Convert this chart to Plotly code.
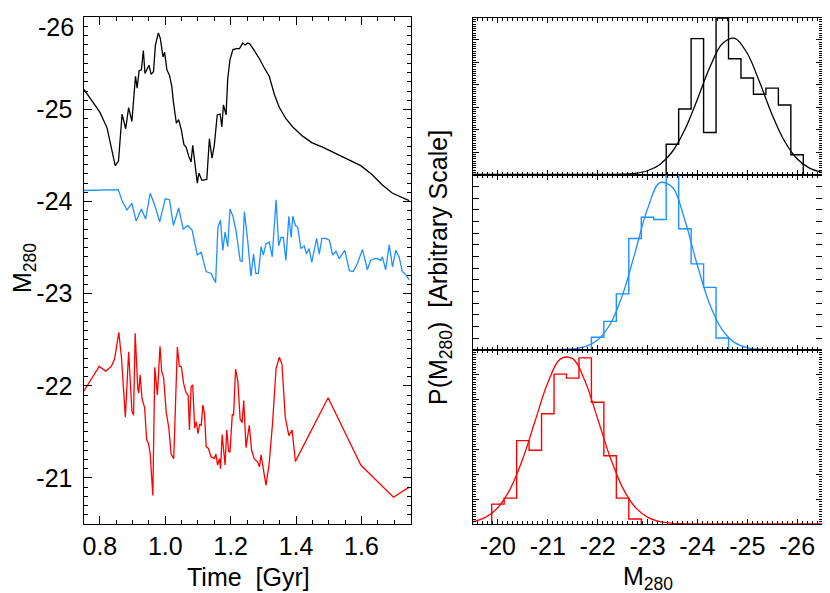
import plotly.graph_objects as go

# left panel: magnitude vs time for the three runs
time_black = [0.747, 0.770, 0.800, 0.822, 0.847, 0.857, 0.868, 0.879, 0.888, 0.898,
              0.909, 0.914, 0.920, 0.927, 0.933, 0.938, 0.950, 0.957, 0.964, 0.970,
              0.979, 0.985, 0.993, 0.998, 1.005, 1.013, 1.020, 1.025, 1.034, 1.041,
              1.049, 1.057, 1.064, 1.072, 1.079, 1.084, 1.092, 1.098, 1.103, 1.112,
              1.127, 1.135, 1.143, 1.150, 1.159, 1.168, 1.173, 1.178, 1.186, 1.191,
              1.198, 1.207, 1.219, 1.227, 1.237, 1.244, 1.252, 1.259, 1.272, 1.288,
              1.303, 1.318, 1.334, 1.349, 1.369, 1.390, 1.420, 1.448, 1.481, 1.522,
              1.562, 1.598, 1.633, 1.664, 1.695, 1.746]
mag_black = [-25.24, -25.12, -24.97, -24.80, -24.39, -24.44, -24.95, -24.79, -25.02, -24.87,
             -25.36, -25.23, -25.42, -25.43, -25.64, -25.39, -25.48, -25.38, -25.41, -25.70,
             -25.83, -25.77, -25.57, -25.62, -25.43, -25.37, -25.25, -25.08, -24.85, -24.89,
             -24.78, -24.62, -24.59, -24.49, -24.43, -24.61, -24.36, -24.20, -24.31, -24.23,
             -24.24, -24.68, -24.47, -24.61, -24.94, -24.95, -24.81, -25.05, -24.94, -25.33,
             -25.54, -25.65, -25.66, -25.66, -25.72, -25.70, -25.72, -25.71, -25.64, -25.55,
             -25.45, -25.36, -25.16, -25.02, -24.90, -24.81, -24.71, -24.64, -24.59, -24.52,
             -24.45, -24.39, -24.29, -24.18, -24.09, -24.01]

time_blue = [0.747, 0.856, 0.869, 0.883, 0.898, 0.911, 0.927, 0.940, 0.954, 0.967,
             0.983, 1.000, 1.013, 1.025, 1.041, 1.055, 1.069, 1.082, 1.098, 1.110,
             1.125, 1.140, 1.154, 1.161, 1.169, 1.176, 1.183, 1.191, 1.198, 1.207,
             1.217, 1.229, 1.235, 1.242, 1.252, 1.262, 1.270, 1.277, 1.285, 1.293,
             1.300, 1.308, 1.318, 1.327, 1.339, 1.347, 1.354, 1.361, 1.369, 1.378,
             1.385, 1.390, 1.398, 1.405, 1.415, 1.425, 1.432, 1.440, 1.448, 1.456,
             1.463, 1.471, 1.479, 1.491, 1.502, 1.512, 1.522, 1.532, 1.549, 1.563,
             1.575, 1.588, 1.603, 1.618, 1.628, 1.639, 1.649, 1.659, 1.664, 1.674,
             1.685, 1.695, 1.705, 1.715, 1.725, 1.735, 1.746]
mag_blue = [-24.12, -24.13, -24.00, -23.91, -23.98, -23.79, -23.92, -23.81, -24.09, -23.97,
            -23.78, -24.03, -24.02, -23.74, -23.93, -23.70, -23.74, -23.69, -23.42, -23.45,
            -23.24, -23.22, -23.12, -23.72, -23.80, -23.47, -23.67, -23.51, -23.92, -23.84,
            -23.67, -23.36, -23.35, -23.89, -23.58, -23.19, -23.43, -23.22, -23.22, -23.51,
            -23.42, -23.54, -23.56, -23.40, -24.02, -23.52, -23.61, -23.61, -23.36, -23.84,
            -23.61, -23.84, -23.74, -23.72, -23.49, -23.52, -23.43, -23.49, -23.34, -23.50,
            -23.60, -23.43, -23.60, -23.60, -23.58, -23.42, -23.46, -23.38, -23.47, -23.25,
            -23.24, -23.33, -23.48, -23.26, -23.36, -23.38, -23.38, -23.36, -23.40, -23.26,
            -23.53, -23.29, -23.47, -23.40, -23.24, -23.21, -23.15]

time_red = [0.747, 0.798, 0.818, 0.835, 0.845, 0.858, 0.866, 0.878, 0.888, 0.898,
            0.903, 0.908, 0.916, 0.919, 0.923, 0.929, 0.937, 0.943, 0.949, 0.954,
            0.962, 0.968, 0.976, 0.984, 0.989, 0.995, 1.003, 1.011, 1.018, 1.026,
            1.037, 1.043, 1.049, 1.056, 1.064, 1.070, 1.074, 1.079, 1.084, 1.090,
            1.095, 1.100, 1.105, 1.110, 1.115, 1.120, 1.125, 1.132, 1.140, 1.150,
            1.155, 1.160, 1.166, 1.169, 1.174, 1.183, 1.188, 1.194, 1.198, 1.205,
            1.209, 1.215, 1.222, 1.229, 1.235, 1.240, 1.247, 1.257, 1.264, 1.272,
            1.283, 1.288, 1.293, 1.300, 1.308, 1.318, 1.328, 1.339, 1.349, 1.357,
            1.367, 1.378, 1.388, 1.398, 1.498, 1.598, 1.698, 1.746]
mag_red = [-21.92, -22.21, -22.16, -22.21, -22.29, -22.58, -22.31, -21.66, -22.37, -21.73,
           -21.68, -22.57, -21.97, -21.92, -22.12, -21.86, -21.76, -21.42, -21.37, -21.26,
           -20.81, -22.20, -21.90, -22.43, -22.16, -22.09, -21.71, -21.54, -21.26, -21.21,
           -22.42, -22.21, -22.21, -22.03, -21.92, -21.90, -21.52, -21.99, -22.01, -21.54,
           -21.61, -21.48, -21.58, -21.57, -21.79, -21.70, -21.34, -21.32, -21.23, -21.21,
           -21.26, -21.14, -21.21, -21.10, -21.47, -21.14, -21.52, -21.29, -21.28, -21.69,
           -21.68, -22.18, -22.05, -21.64, -21.60, -21.84, -21.33, -21.57, -21.30, -21.21,
           -21.17, -21.12, -21.25, -21.07, -20.92, -21.16, -21.59, -22.19, -22.31, -22.23,
           -21.66, -21.46, -21.52, -21.18, -21.87, -21.14, -20.79, -20.90]

# right panels: histograms (bin centres, arbitrary heights) and gaussian fits
bins_black = [-23.5, -23.75, -24.0, -24.25, -24.5, -24.75, -25.0, -25.25, -25.5, -25.75, -26.0]
hist_black = [1.35, 2.92, 6.06, 1.87, 6.97, 5.16, 4.30, 3.58, 3.85, 3.10, 0.88]

bins_blue = [-22.0, -22.25, -22.5, -22.75, -23.0, -23.25, -23.5, -23.75, -24.0, -24.25, -24.5]
hist_blue = [0.50, 1.13, 2.23, 4.44, 5.29, 5.20, 7.35, 4.83, 3.43, 2.49, 0.47]

bins_red = [-20.0, -20.25, -20.5, -20.75, -21.0, -21.25, -21.5, -21.75, -22.0, -22.25, -22.5, -22.75]
hist_red = [0.80, 1.04, 3.35, 2.96, 4.43, 6.02, 5.86, 6.67, 4.89, 2.74, 1.04, 0.20]

fit_mag = [-19.5, -19.75, -20.0, -20.25, -20.5, -20.75, -21.0, -21.25, -21.5, -21.75,
           -22.0, -22.25, -22.5, -22.75, -23.0, -23.25, -23.5, -23.75, -24.0, -24.25,
           -24.5, -24.75, -25.0, -25.25, -25.5, -25.75, -26.0, -26.25, -26.5]
fit_black = [0.0, 0.0, 0.0, 0.0, 0.0, 0.0, 0.0, 0.0, 0.0, 0.0,
             0.001, 0.003, 0.015, 0.053, 0.167, 0.448, 1.025, 2.005, 3.349, 4.780,
             5.829, 6.072, 5.405, 4.109, 2.669, 1.481, 0.702, 0.284, 0.098]
fit_blue = [0.0, 0.0, 0.0, 0.0, 0.0, 0.0, 0.0, 0.006, 0.031, 0.120,
            0.386, 1.017, 2.195, 3.881, 5.622, 6.673, 6.490, 5.171, 3.375, 1.806,
            0.791, 0.284, 0.084, 0.020, 0.004, 0.0, 0.0, 0.0, 0.0]
fit_red = [0.090, 0.264, 0.661, 1.422, 2.627, 4.164, 5.668, 6.622, 6.642, 5.720,
           4.229, 2.683, 1.462, 0.684, 0.275, 0.095, 0.028, 0.007, 0.0, 0.0,
           0.0, 0.0, 0.0, 0.0, 0.0, 0.0, 0.0, 0.0, 0.0]

BLACK = "#000000"
BLUE = "#1E90FF"
RED = "#FF0000"
FONT = "Liberation Sans, Arial, Helvetica, sans-serif"
W, H = 830, 593
OFF = 8  # the page body margin shifts the figure by this much


def step_xy(centers, heights, width=0.25):
    xs = [centers[0] + width / 2, centers[0] + width / 2] + [c - width / 2 for c in centers]
    ys = [0] + list(heights) + [0]
    return xs, ys


def px_x(p):
    return (p - OFF) / W


def px_y(p):
    return 1 - (p - OFF) / H


fig = go.Figure()

# time series
for t, m, col in [(time_black, mag_black, BLACK), (time_blue, mag_blue, BLUE), (time_red, mag_red, RED)]:
    fig.add_trace(go.Scatter(x=t, y=m, mode="lines", line=dict(color=col, width=1.3),
                             xaxis="x", yaxis="y", showlegend=False, hoverinfo="skip"))

# histograms + fits
panels = [
    ("x2", "y2", bins_black, hist_black, fit_black, BLACK),
    ("x3", "y3", bins_blue, hist_blue, fit_blue, BLUE),
    ("x4", "y4", bins_red, hist_red, fit_red, RED),
]
for xa, ya, bins, hist, fit, col in panels:
    hx, hy = step_xy(bins, hist)
    fig.add_trace(go.Scatter(x=hx, y=hy, mode="lines", line=dict(color=col, width=1.4, shape="hv"),
                             xaxis=xa, yaxis=ya, showlegend=False, hoverinfo="skip"))
    fig.add_trace(go.Scatter(x=fit_mag, y=fit, mode="lines",
                             line=dict(color=col, width=1.3, shape="spline", smoothing=1.0),
                             xaxis=xa, yaxis=ya, showlegend=False, hoverinfo="skip"))

axis_common = dict(showline=True, linecolor="black", linewidth=1, mirror="ticks",
                   ticks="inside", tickcolor="black", showgrid=False, zeroline=False,
                   ticklabeloverflow="allow",
                   tickfont=dict(family=FONT, size=25, color="black"))

left_dom_x = [px_x(83.5), px_x(410.5)]
right_dom_x = [px_x(473), px_x(822)]

fig.update_layout(
    width=W, height=H,
    margin=dict(l=0, r=0, t=0, b=0, autoexpand=False),
    paper_bgcolor="white", plot_bgcolor="white",
    font=dict(family=FONT, size=25, color="black"),
    xaxis=dict(axis_common, domain=left_dom_x, anchor="y", range=[0.75, 1.75],
               tickvals=[0.8, 1.0, 1.2, 1.4, 1.6], ticktext=["0.8", "1.0", "1.2", "1.4", "1.6"],
               ticklen=8, ticklabelstandoff=0,
               minor=dict(dtick=0.05, ticklen=4, ticks="inside", tickcolor="black")),
    yaxis=dict(axis_common, domain=[px_y(524), px_y(17.3)], anchor="x", range=[-20.5, -26],
               tickvals=[-25, -24, -23, -22, -21],
               ticktext=["-25", "-24", "-23", "-22", "-21"],
               ticklen=8, ticklabelstandoff=5,
               minor=dict(dtick=0.1, ticklen=4, ticks="inside", tickcolor="black")),
    xaxis2=dict(axis_common, domain=right_dom_x, anchor="y2", range=[-19.5, -26.5],
                showticklabels=False, ticklen=5, dtick=1,
                minor=dict(dtick=0.1, ticklen=3, ticks="inside", tickcolor="black")),
    yaxis2=dict(axis_common, domain=[px_y(174.5), px_y(17.5)], anchor="x2", range=[0, 7],
                showticklabels=False, dtick=1, ticklen=6,
                minor=dict(dtick=0.1, ticklen=3, ticks="inside", tickcolor="black")),
    xaxis3=dict(axis_common, domain=right_dom_x, anchor="y3", range=[-19.5, -26.5],
                showticklabels=False, ticklen=5, dtick=1,
                minor=dict(dtick=0.1, ticklen=3, ticks="inside", tickcolor="black")),
    yaxis3=dict(axis_common, domain=[px_y(349.7), px_y(174.5)], anchor="x3", range=[0, 7],
                showticklabels=False, dtick=0.466, ticklen=6),
    xaxis4=dict(axis_common, domain=right_dom_x, anchor="y4", range=[-19.5, -26.5],
                tickvals=[-20, -21, -22, -23, -24, -25, -26],
                ticktext=["-20", "-21", "-22", "-23", "-24", "-25", "-26"],
                ticklen=5, ticklabelstandoff=0,
                minor=dict(dtick=0.1, ticklen=3, ticks="inside", tickcolor="black")),
    yaxis4=dict(axis_common, domain=[px_y(524), px_y(349.7)], anchor="x4", range=[0, 7],
                showticklabels=False, dtick=1, ticklen=6,
                minor=dict(dtick=0.1, ticklen=3, ticks="inside", tickcolor="black")),
)

title_font = dict(family=FONT, size=25, color="black")
# top tick label of the left axis sits just inside the frame, as in the original
fig.add_annotation(text="-26", x=px_x(76), y=px_y(27), xref="paper", yref="paper",
                   showarrow=False, font=title_font, xanchor="right", yanchor="middle")
fig.add_annotation(text="M<sub>280</sub>", x=px_x(24), y=px_y(268), xref="paper", yref="paper",
                   textangle=-90, showarrow=False, font=title_font, xanchor="center", yanchor="middle")
fig.add_annotation(text="Time \u00a0[Gyr]", x=px_x(248), y=px_y(577), xref="paper", yref="paper",
                   showarrow=False, font=title_font, xanchor="center", yanchor="middle")
fig.add_annotation(text="P(M<sub>280</sub>) \u00a0[Arbitrary Scale]", x=px_x(440), y=px_y(268),
                   xref="paper", yref="paper", textangle=-90, showarrow=False, font=title_font,
                   xanchor="center", yanchor="middle")
fig.add_annotation(text="M<sub>280</sub>", x=px_x(648), y=px_y(578), xref="paper", yref="paper",
                   showarrow=False, font=title_font, xanchor="center", yanchor="middle")

fig.write_html("out.html")
